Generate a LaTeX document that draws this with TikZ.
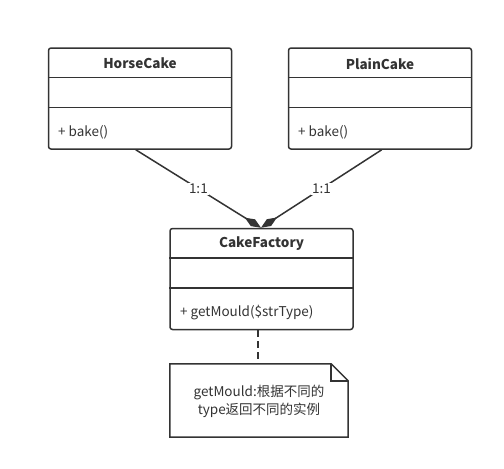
\documentclass[tikz,border=0pt]{standalone}
\usepackage{fontspec}
\setmainfont{Noto Sans CJK SC}
\usetikzlibrary{arrows.meta,calc}
\definecolor{ink}{HTML}{333333}
\tikzset{
  x=1pt, y=-1pt,
  classbox/.style={draw=ink, line width=1.5pt, rounded corners=2.5pt, minimum width=183pt, minimum height=101pt, inner sep=0pt},
  classname/.style={text=ink, font=\fontsize{13.5}{16}\selectfont\bfseries},
  member/.style={text=ink, font=\fontsize{13.5}{16}\selectfont, anchor=west, inner sep=0pt},
  divider/.style={draw=ink, line width=1.5pt},
  assoc/.style={draw=ink, line width=1.5pt, -{Diamond[length=19pt,width=8pt,fill=ink]}},
  mult/.style={text=ink, fill=white, font=\fontsize{13.5}{16}\selectfont, inner sep=1pt},
  notelink/.style={draw=ink, line width=1.5pt, dash pattern=on 7pt off 4pt},
  notetext/.style={text=ink, font=\fontsize{13.5}{17.5}\selectfont, align=center},
}
\begin{document}
\begin{tikzpicture}
\useasboundingbox (0,0) rectangle (504,469);

% HorseCake
\node[classbox] (horse) at (140,98.5) {};
\node[classname] (horseT) at (140,63.5) {HorseCake};
\draw[divider] ($(horse.north west)+(0,30)$) -- ($(horse.north east)+(0,30)$);
\draw[divider] ($(horse.north west)+(0,60)$) -- ($(horse.north east)+(0,60)$);
\node[member] (horseM) at (58,132) {+ bake()};

% PlainCake
\node[classbox] (plain) at (380,98.5) {};
\node[classname] (plainT) at (380,63.5) {PlainCake};
\draw[divider] ($(plain.north west)+(0,30)$) -- ($(plain.north east)+(0,30)$);
\draw[divider] ($(plain.north west)+(0,60)$) -- ($(plain.north east)+(0,60)$);
\node[member] (plainM) at (298,132) {+ bake()};

% CakeFactory
\node[classbox] (factory) at (261.5,279) {};
\node[classname] (factoryT) at (261.5,244) {CakeFactory};
\draw[divider] ($(factory.north west)+(0,30)$) -- ($(factory.north east)+(0,30)$);
\draw[divider] ($(factory.north west)+(0,60)$) -- ($(factory.north east)+(0,60)$);
\node[member] (factoryM) at (180,313) {+ getMould(\$strType)};

% Associations with composition diamonds
\coordinate (hs) at ($(horse.south west)+(88,0)$);
\coordinate (ps) at ($(plain.south west)+(94,0)$);
\coordinate (ft) at ($(factory.north)+(-0.5,0)$);
\draw[assoc] (hs) -- node[mult] (m1) {1:1} (ft);
\draw[assoc] (ps) -- node[mult] (m2) {1:1} (ft);

% Note
\node[minimum width=178pt, minimum height=73pt, inner sep=0pt] (note) at (259,400.5) {};
\draw[draw=ink, line width=1.5pt]
  (note.north west) -- ($(note.north east)+(-17,0)$) -- ($(note.north east)+(0,17)$)
  -- (note.south east) -- (note.south west) -- cycle;
\draw[draw=ink, line width=1.5pt]
  ($(note.north east)+(-17,0)$) -- ($(note.north east)+(-17,17)$) -- ($(note.north east)+(0,17)$);
\node[notetext] (noteT) at (259,401.5) {getMould:根据不同的\\type返回不同的实例};
\draw[notelink] ($(factory.south)+(-3.5,0)$) -- ($(note.north)+(-1,0)$);
\end{tikzpicture}
\end{document}
